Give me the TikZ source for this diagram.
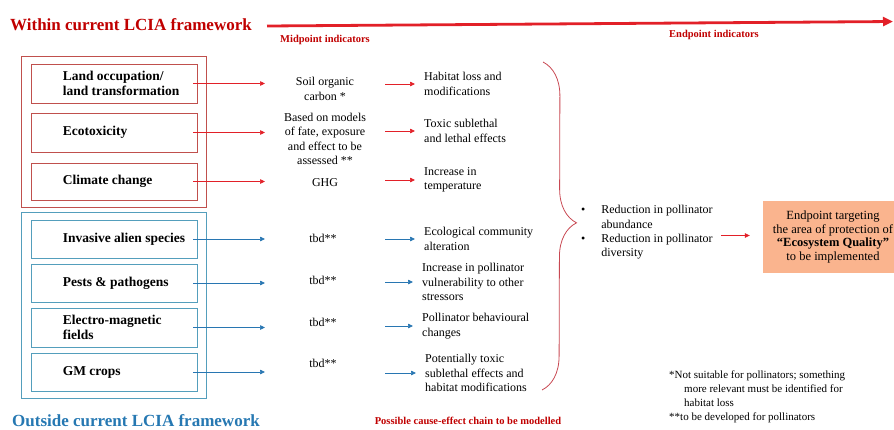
\documentclass[tikz,border=0pt]{standalone}
\usepackage{fontspec}
\setmainfont{Liberation Serif}
\usetikzlibrary{arrows.meta,decorations.pathreplacing,fit,positioning}
\definecolor{lciared}{RGB}{192,0,0}
\definecolor{arrred}{RGB}{226,32,40}
\definecolor{boxred}{RGB}{192,80,77}
\definecolor{boxblue}{RGB}{84,158,188}
\definecolor{arrblue}{RGB}{40,118,178}
\definecolor{lciablue}{RGB}{38,120,178}
\definecolor{endfill}{RGB}{250,180,142}
\definecolor{bracered}{RGB}{200,72,82}
\tikzset{
  catbox/.style={draw=#1,line width=0.8pt,minimum width=166pt,inner sep=0pt},
  groupframe/.style={draw=#1,line width=0.8pt,inner xsep=9pt,inner ysep=7pt},
  cattext/.style={font=\fontsize{13.5}{15}\selectfont\bfseries,align=left,inner sep=0pt},
  body/.style={font=\fontsize{12}{14.3}\selectfont,align=left,inner sep=0pt},
  smalllabel/.style={font=\fontsize{10.5}{12}\selectfont\bfseries,text=lciared,inner sep=0pt},
  redarrow/.style={draw=arrred,line width=0.7pt,-{Triangle[length=5pt,width=4.5pt]}},
  bluearrow/.style={draw=arrblue,line width=0.7pt,-{Triangle[length=5pt,width=4.5pt]}},
}

\begin{document}
\begin{tikzpicture}[x=1pt,y=-1pt]
  \useasboundingbox (0,0) rectangle (894,429);
  \clip (0,0) rectangle (894,429);

  % headings
  \node[font=\fontsize{17}{20}\selectfont\bfseries,text=lciared,anchor=west,inner sep=0pt]
    (within) at (10,25) {Within current LCIA framework};
  \coordinate (axisend) at (893,21.5);
  \draw[draw=arrred,line width=2.8pt,-{Triangle[length=10pt,width=9pt]}]
    ([xshift=15pt,yshift=-1pt]within.east) -- (axisend);
  \node[smalllabel] (midlbl) at (325,40) {Midpoint indicators};
  \node[smalllabel] (endlbl) at (714,35) {Endpoint indicators};
  \node[font=\fontsize{17}{20}\selectfont\bfseries,text=lciablue,anchor=west,inner sep=0pt]
    (outside) at (12,421) {Outside current LCIA framework};
  \node[smalllabel] (chainlbl) at (468,421) {Possible cause-effect chain to be modelled};

  % impact categories
  \foreach \n/\y/\h in {1/83.5/39pt,2/132.5/39pt,3/181.5/37pt}
    \node[catbox=boxred,minimum height=\h] (b\n) at (114,\y) {};
  \foreach \n/\y/\h in {4/239/38pt,5/283/38pt,6/327.5/39pt,7/372/38pt}
    \node[catbox=boxblue,minimum height=\h] (b\n) at (114,\y) {};
  \node[groupframe=boxred,fit=(b1)(b3)] (redgroup) {};
  \node[groupframe=boxblue,fit=(b4)(b7)] (bluegroup) {};

  \node[cattext,right=32pt of b1.west] (t1) {Land occupation/\\land transformation};
  \node[cattext,right=32pt of b2.west] (t2) {Ecotoxicity};
  \node[cattext,right=32pt of b3.west] (t3) {Climate change};
  \node[cattext,right=32pt of b4.west] (t4) {Invasive alien species};
  \node[cattext,right=32pt of b5.west] (t5) {Pests \& pathogens};
  \node[cattext,right=32pt of b6.west] (t6) {Electro-magnetic\\fields};
  \node[cattext,right=32pt of b7.west] (t7) {GM crops};

  % midpoints
  \coordinate (midcol) at (265,0);
  \node[body,align=center] (m1) at (325,89) {Soil organic\\carbon *};
  \node[body,align=center] (m2) at (325,139) {Based on models\\of fate, exposure\\and effect to be\\assessed **};
  \node[body] (m3) at (325,183) {GHG};
  \foreach \n/\y in {4/238,5/280,6/322,7/363}
    \node[body] (m\n) at (323,\y) {tbd**};

  \foreach \n in {1,2,3}
    \draw[redarrow] ([xshift=-4pt]b\n.east) -- (b\n.east -| midcol);
  \foreach \n in {4,5,6,7}
    \draw[bluearrow] ([xshift=-4pt]b\n.east) -- (b\n.east -| midcol);

  % effects on pollinators
  \coordinate (effcol) at (385,0);
  \node[body,anchor=west] (e1) at (424,84) {Habitat loss and\\modifications};
  \node[body,anchor=west] (e2) at (424,131) {Toxic sublethal\\and lethal effects};
  \node[body,anchor=west] (e3) at (424,180) {Increase in\\temperature};
  \node[body,anchor=west] (e4) at (424,239) {Ecological community\\alteration};
  \node[body,anchor=west] (e5) at (422,282) {Increase in pollinator\\vulnerability to other\\stressors};
  \node[body,anchor=west] (e6) at (422,326) {Pollinator behavioural\\changes};
  \node[body,anchor=west] (e7) at (425,373) {Potentially toxic\\sublethal effects and\\habitat modifications};

  \foreach \n in {1,2,3}
    \draw[redarrow] (e\n.west -| effcol) -- ([xshift=-9pt]e\n.west);
  \foreach \n in {4,5,6,7}
    \draw[bluearrow] (e\n.west -| effcol) -- ([xshift=-9pt]e\n.west);

  \draw[bracered,line width=0.8pt,decorate,decoration={brace,amplitude=34pt,aspect=0.49}]
    (543,62) -- (542,390);

  % endpoint
  \node[body,anchor=west] (bul) at (581,232.5) {%
    \begin{tabular}{@{}l@{\hspace{16pt}}l@{}}
      \textbullet & Reduction in pollinator\\
                  & abundance\\
      \textbullet & Reduction in pollinator\\
                  & diversity
    \end{tabular}};
  \node[font=\fontsize{12.5}{13.4}\selectfont,align=center,fill=endfill,
        minimum width=140pt,minimum height=72pt,inner sep=0pt]
    (endpt) at (833,237) {Endpoint targeting\\the area of protection of\\\textbf{“Ecosystem Quality”}\\to be implemented};
  \draw[redarrow] ([xshift=8pt,yshift=-3pt]bul.east) -- ([xshift=-13pt,yshift=-3pt]bul.east -| endpt.west);

  % footnotes
  \node[font=\fontsize{11}{13.7}\selectfont,align=left,anchor=north west,inner sep=0pt]
    (notes) at (669,371) {*Not suitable for pollinators; something\\
      \hspace*{15pt}more relevant must be identified for\\
      \hspace*{15pt}habitat loss\\
      **to be developed for pollinators};
\end{tikzpicture}
\end{document}
